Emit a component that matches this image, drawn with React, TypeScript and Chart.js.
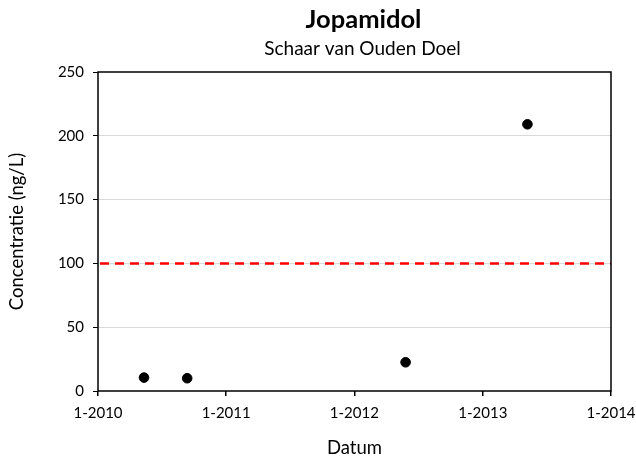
import React, { useEffect, useRef } from "react";
import { Chart, registerables } from "chart.js";

Chart.register(...registerables);

const sampleDates = ["2010-05-12", "2010-09-12", "2012-05-26", "2013-05-08"];
const concentrations = [10.5, 10, 22.5, 209];
const thresholdValue = 100;
const yearTicks = [2010, 2011, 2012, 2013, 2014];
const yTicks = [0, 50, 100, 150, 200, 250];
const chartTitle = "Jopamidol";
const chartSubtitle = "Schaar van Ouden Doel";
const xTitle = "Datum";
const yTitle = "Concentratie (ng/L)";

const FONT = "Lato, 'Open Sans', sans-serif";

const toMs = (s: string) => Date.parse(s + "T00:00:00Z");
const yearMs = (y: number) => Date.UTC(y, 0, 1);

const boxPlugin = {
  id: "boxPlugin",
  afterDatasetsDraw(chart: any) {
    const { ctx, chartArea } = chart;
    ctx.save();
    ctx.strokeStyle = "#000";
    ctx.lineWidth = 1.5;
    ctx.strokeRect(chartArea.left, chartArea.top, chartArea.right - chartArea.left, chartArea.bottom - chartArea.top);
    ctx.restore();
  },
};

const titlePlugin = {
  id: "titlePlugin",
  afterDraw(chart: any) {
    const { ctx, chartArea } = chart;
    const cx = (chartArea.left + chartArea.right) / 2 + 9;
    ctx.save();
    ctx.fillStyle = "#000";
    ctx.textAlign = "center";
    ctx.textBaseline = "middle";
    ctx.font = `bold 25.5px ${FONT}`;
    ctx.fillText(chartTitle, cx, 20);
    ctx.font = `19px ${FONT}`;
    ctx.fillText(chartSubtitle, cx - 1, 49);
    ctx.restore();
  },
};

export default function App() {
  const ref = useRef<HTMLCanvasElement | null>(null);
  useEffect(() => {
    document.body.style.margin = "0";
    const xMin = yearMs(yearTicks[0]);
    const xMax = yearMs(yearTicks[yearTicks.length - 1]);
    const chart = new Chart(ref.current as HTMLCanvasElement, {
      type: "scatter",
      data: {
        datasets: [
          {
            label: "Jopamidol",
            data: sampleDates.map((d, i) => ({ x: toMs(d), y: concentrations[i] })),
            backgroundColor: "#000",
            borderColor: "#000",
            pointRadius: 4.8,
            pointHoverRadius: 4.8,
            showLine: false,
            order: 1,
          },
          {
            label: "Norm",
            data: [
              { x: xMin, y: thresholdValue },
              { x: xMax, y: thresholdValue },
            ],
            showLine: true,
            borderColor: "#ff0000",
            borderWidth: 2.5,
            borderDash: [9, 6],
            borderDashOffset: -2,
            pointRadius: 0,
            order: 2,
          },
        ],
      },
      options: {
        animation: false,
        responsive: false,
        maintainAspectRatio: false,
        layout: { padding: { left: 0, right: 25, top: 72, bottom: 4 } },
        plugins: {
          legend: { display: false },
          tooltip: { enabled: false },
          title: { display: false },
          subtitle: { display: false },
        },
        scales: {
          x: {
            type: "linear",
            min: xMin,
            max: xMax,
            afterBuildTicks: (axis: any) => {
              axis.ticks = yearTicks.map((y) => ({ value: yearMs(y) }));
            },
            afterFit: (axis: any) => {
              axis.height = 464 - 4 - 391;
              axis.paddingLeft = 0;
              axis.paddingRight = 0;
            },
            ticks: {
              color: "#000",
              font: { family: FONT, size: 15 },
              padding: 8,
              maxRotation: 0,
              callback: (v: any) => "1-" + new Date(Number(v)).getUTCFullYear(),
            },
            grid: { drawOnChartArea: false, tickColor: "#000", tickLength: 5, lineWidth: 1.5 },
            border: { display: false },
            title: {
              display: true,
              text: xTitle,
              color: "#000",
              font: { family: FONT, size: 18.5 },
              padding: { top: 0, bottom: 1 },
            },
          },
          y: {
            min: 0,
            max: 250,
            afterBuildTicks: (axis: any) => {
              axis.ticks = yTicks.map((v) => ({ value: v }));
            },
            afterFit: (axis: any) => {
              axis.width = 98;
              axis.paddingTop = 0;
              axis.paddingBottom = 0;
            },
            ticks: {
              color: "#000",
              font: { family: FONT, size: 15 },
              padding: 9,
            },
            grid: {
              color: (c: any) => (c.tick && (c.tick.value === 0 || c.tick.value === 250) ? "rgba(0,0,0,0)" : "#d9d9d9"),
              tickColor: "#000",
              tickLength: 5,
              lineWidth: 1,
            },
            border: { display: false },
            title: {
              display: true,
              text: yTitle,
              color: "#000",
              font: { family: FONT, size: 18.5 },
              padding: { top: 6, bottom: 0 },
            },
          },
        },
      } as any,
      plugins: [boxPlugin, titlePlugin],
    });
    return () => chart.destroy();
  }, []);
  return (
    <div style={{ width: 636, height: 464, background: "#fff" }}>
      <canvas ref={ref} width={636} height={464} style={{ display: "block" }} />
    </div>
  );
}
